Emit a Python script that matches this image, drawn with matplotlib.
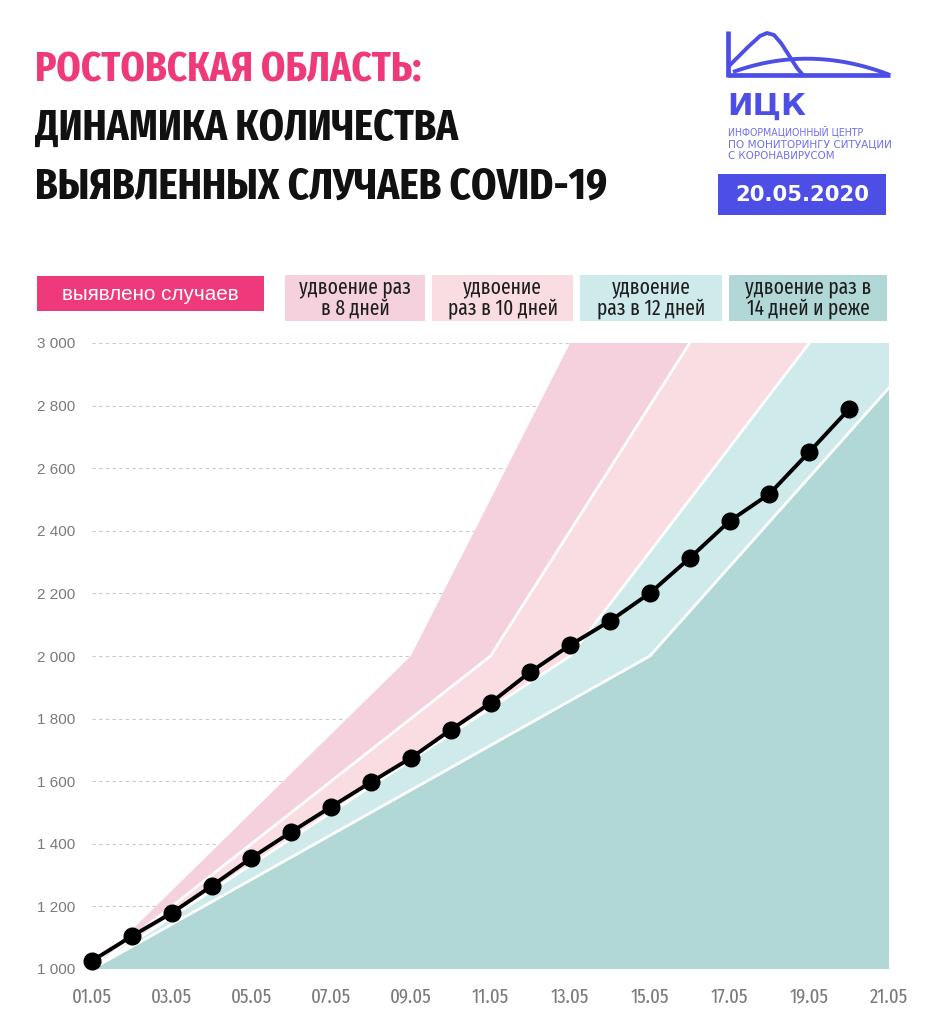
import os
import numpy as np
import matplotlib
matplotlib.use("Agg")
import matplotlib.pyplot as plt
import matplotlib.font_manager as fm
from matplotlib.patches import Rectangle
from matplotlib.lines import Line2D

# ---------------- data ----------------
dates = ["01.05", "02.05", "03.05", "04.05", "05.05", "06.05", "07.05", "08.05", "09.05", "10.05",
         "11.05", "12.05", "13.05", "14.05", "15.05", "16.05", "17.05", "18.05", "19.05", "20.05"]
cases = [1026, 1105, 1179, 1265, 1355, 1438, 1518, 1597, 1674, 1764,
         1850, 1949, 2035, 2112, 2201, 2313, 2431, 2518, 2652, 2789]

# doubling reference lines (date, value) vertices
dbl8_dates = ["01.05", "09.05", "17.05"]
dbl10_dates = ["01.05", "11.05", "21.05"]
dbl12_dates = ["01.05", "13.05", "25.05"]
dbl14_dates = ["01.05", "15.05", "29.05"]
dbl_values = [1000, 2000, 4000]

xtick_labels = ["01.05", "03.05", "05.05", "07.05", "09.05", "11.05",
                "13.05", "15.05", "17.05", "19.05", "21.05"]
ytick_values = [1000, 1200, 1400, 1600, 1800, 2000, 2200, 2400, 2600, 2800, 3000]

title_line1 = "РОСТОВСКАЯ ОБЛАСТЬ:"
title_line2 = "ДИНАМИКА КОЛИЧЕСТВА"
title_line3 = "ВЫЯВЛЕННЫХ СЛУЧАЕВ COVID-19"
legend_labels = ["выявлено случаев", "удвоение раз\nв 8 дней", "удвоение\nраз в 10 дней",
                 "удвоение\nраз в 12 дней", "удвоение раз в\n14 дней и реже"]
logo_sub = ["ИНФОРМАЦИОННЫЙ ЦЕНТР", "ПО МОНИТОРИНГУ СИТУАЦИИ", "С КОРОНАВИРУСОМ"]
report_date = "20.05.2020"

# ---------------- colours ----------------
PINK = "#ee3a7a"
BAND8 = "#f5d1dd"
BAND10 = "#f9dde3"
BAND12 = "#cfeaea"
BAND14 = "#b1d7d6"
BLUE = "#4c4ee6"
BLUE_LIGHT = "#6f71ea"

def day(s):
    return int(s.split(".")[0])

# ---------------- fonts ----------------
def _w(f):
    w = f.weight
    if isinstance(w, str):
        w = fm.weight_dict.get(w, 400)
    return int(w)

def find_condensed(target_weight):
    best, best_score = None, -1e9
    for f in fm.fontManager.ttflist:
        key = (os.path.basename(f.fname) + " " + f.name).lower().replace("-", "").replace(" ", "").replace("_", "")
        if any(k in key for k in ["cjk", "mono", "italic", "oblique"]):
            continue
        if "extracondensed" in key or "ultracondensed" in key:
            c = 3
        elif "semicondensed" in key:
            c = 1
        elif "condensed" in key or "narrow" in key:
            c = 2
        else:
            continue
        w = _w(f)
        if "extrabold" in key or "ultrabold" in key:
            w = 800
        elif "semibold" in key or "demibold" in key:
            w = 600
        elif "black" in key or "heavy" in key:
            w = 900
        elif "bold" in key:
            w = 700
        elif "extralight" in key or "thin" in key:
            w = 200
        elif "light" in key:
            w = 300
        elif "medium" in key:
            w = 500
        else:
            w = 400 if w not in (300, 500, 600, 700, 800, 900) else w
        score = c * 10 - abs(w - target_weight) / 50.0
        if score > best_score:
            best, best_score = f.fname, score
    return best

cond_bold = find_condensed(700)
cond_reg = find_condensed(400)
fp_title = fm.FontProperties(fname=cond_bold) if cond_bold else fm.FontProperties(family="DejaVu Sans", weight="bold")
fp_leg = fm.FontProperties(fname=cond_reg) if cond_reg else fm.FontProperties(family="Liberation Sans")

W, H = 927, 1024
fig = plt.figure(figsize=(W / 100, H / 100), dpi=100)
fig.patch.set_facecolor("white")
renderer = fig.canvas.get_renderer()

def fx(px):
    return px / W

def fy(py):
    return 1 - py / H

def fit_text(x, y, s, target_w, max_size=None, **kw):
    t = fig.text(fx(x), fy(y), s, **kw)
    for _ in range(4):
        bb = t.get_window_extent(renderer)
        if bb.width <= 0:
            break
        t.set_fontsize(t.get_fontsize() * target_w / bb.width)
    if max_size is not None and t.get_fontsize() > max_size:
        t.set_fontsize(max_size)
    return t

# ---------------- title ----------------
for txt, yb, wpx, col in [(title_line1, 81, 386, PINK), (title_line2, 140, 423, "#111111"),
                          (title_line3, 198, 572, "#111111")]:
    fit_text(35, yb, txt, wpx, max_size=43, fontproperties=fp_title.copy(), color=col,
             ha="left", va="baseline")

# ---------------- logo ----------------
def fig_line(xs, ys, lw, color=BLUE):
    fig.add_artist(Line2D([fx(v) for v in xs], [fy(v) for v in ys], transform=fig.transFigure,
                          lw=lw, color=color, solid_capstyle="butt", solid_joinstyle="round"))

fig_line([728, 728], [31, 77], 3.4)
fig_line([728, 890], [75, 75], 3.4)
t_arch = np.linspace(0, 1, 60)
arch_x = (1 - t_arch) ** 2 * 733 + 2 * (1 - t_arch) * t_arch * 810 + t_arch ** 2 * 890
arch_y = (1 - t_arch) ** 2 * 72 + 2 * (1 - t_arch) * t_arch * 44 + t_arch ** 2 * 75
fig_line(arch_x, arch_y, 2.8)
fig_line([729, 748, 760, 767, 774, 781, 790, 797, 803], [66, 47, 36, 33, 35, 43, 57, 68, 75], 2.8)

fit_text(727, 115, "ИЦК", 79, family="DejaVu Sans", weight="bold", color=BLUE, ha="left", va="baseline")
for i, (s, wpx) in enumerate(zip(logo_sub, [138, 164, 105])):
    fit_text(728, 135 + 12 * i, s, wpx, family="DejaVu Sans", color=BLUE_LIGHT, ha="left", va="baseline")

fig.add_artist(Rectangle((fx(718), fy(215)), fx(886) - fx(718), fy(174) - fy(215),
                         transform=fig.transFigure, facecolor=BLUE, edgecolor="none"))
fit_text(802, 195, report_date, 134, family="DejaVu Sans", weight="bold", color="white",
         ha="center", va="center")

# ---------------- legend boxes ----------------
boxes = [(37, 264, 276, 311, PINK), (285, 425, 275, 321, BAND8), (432, 573, 275, 321, BAND10),
         (580, 722, 275, 321, BAND12), (729, 887, 275, 321, BAND14)]
for (x0, x1, y0, y1, c) in boxes:
    fig.add_artist(Rectangle((fx(x0), fy(y1)), fx(x1) - fx(x0), fy(y0) - fy(y1),
                             transform=fig.transFigure, facecolor=c, edgecolor="none"))

tmp = fit_text(0, 0, "удвоение раз", 112, fontproperties=fp_leg.copy())
leg_size = tmp.get_fontsize()
tmp.remove()

fit_text((boxes[0][0] + boxes[0][1]) / 2, 294, legend_labels[0], 176, family="Liberation Sans",
         color="white", ha="center", va="center")
for lab, (x0, x1, y0, y1, c) in zip(legend_labels[1:], boxes[1:]):
    fpl = fp_leg.copy()
    fpl.set_size(leg_size)
    fig.text(fx((x0 + x1) / 2), fy(298), lab, fontproperties=fpl, color="#1e1e1e",
             ha="center", va="center", multialignment="center", linespacing=1.0)

# ---------------- chart ----------------
ax = fig.add_axes([fx(92), fy(969), fx(889) - fx(92), fy(343) - fy(969)])
ax.set_facecolor("none")
ax.set_xlim(day("01.05"), day("21.05"))
ax.set_ylim(1000, 3000)

ax.set_axisbelow(True)
for yv in ytick_values[1:]:
    ax.axhline(yv, color="#c9c9c9", lw=0.8, ls=(0, (3, 3)), zorder=0)

x8 = [day(d) for d in dbl8_dates]
x10 = [day(d) for d in dbl10_dates]
x12 = [day(d) for d in dbl12_dates]
x14 = [day(d) for d in dbl14_dates]
v = dbl_values

ax.fill(x8 + x10[::-1], v + v[::-1], color=BAND8, lw=0, zorder=1)
ax.fill(x10 + x12[::-1], v + v[::-1], color=BAND10, lw=0, zorder=1)
ax.fill(x12 + x14[::-1], v + v[::-1], color=BAND12, lw=0, zorder=1)
ax.fill(x14 + [x14[-1]], v + [v[0]], color=BAND14, lw=0, zorder=1)
for xs in (x10, x12, x14):
    ax.plot(xs, v, color="white", lw=2.0, zorder=2)

xd = [day(d) for d in dates]
ax.plot(xd, cases, color="black", lw=2.8, marker="o", ms=12, zorder=5, clip_on=False)

for s in ax.spines.values():
    s.set_visible(False)
ax.set_yticks(ytick_values)
ax.set_yticklabels([f"{t:,}".replace(",", " ") for t in ytick_values])
ax.set_xticks([day(d) for d in xtick_labels])
ax.set_xticklabels(xtick_labels)
ax.tick_params(axis="both", length=0, colors="#808080")
ax.tick_params(axis="y", pad=12, labelsize=11)
ax.tick_params(axis="x", pad=13)

# x tick labels in the condensed face, sized so "01.05" is ~40 px wide
tmp = fit_text(0, 0, "01.05", 40, fontproperties=fp_leg.copy())
xt_size = tmp.get_fontsize()
tmp.remove()
for lab in ax.get_yticklabels():
    lab.set_family("Liberation Sans")
    lab.set_color("#7a7a7a")
for lab in ax.get_xticklabels():
    fpx = fp_leg.copy()
    fpx.set_size(xt_size)
    lab.set_fontproperties(fpx)
    lab.set_color("#7a7a7a")

fig.savefig("out.png", dpi=100, facecolor="white")
